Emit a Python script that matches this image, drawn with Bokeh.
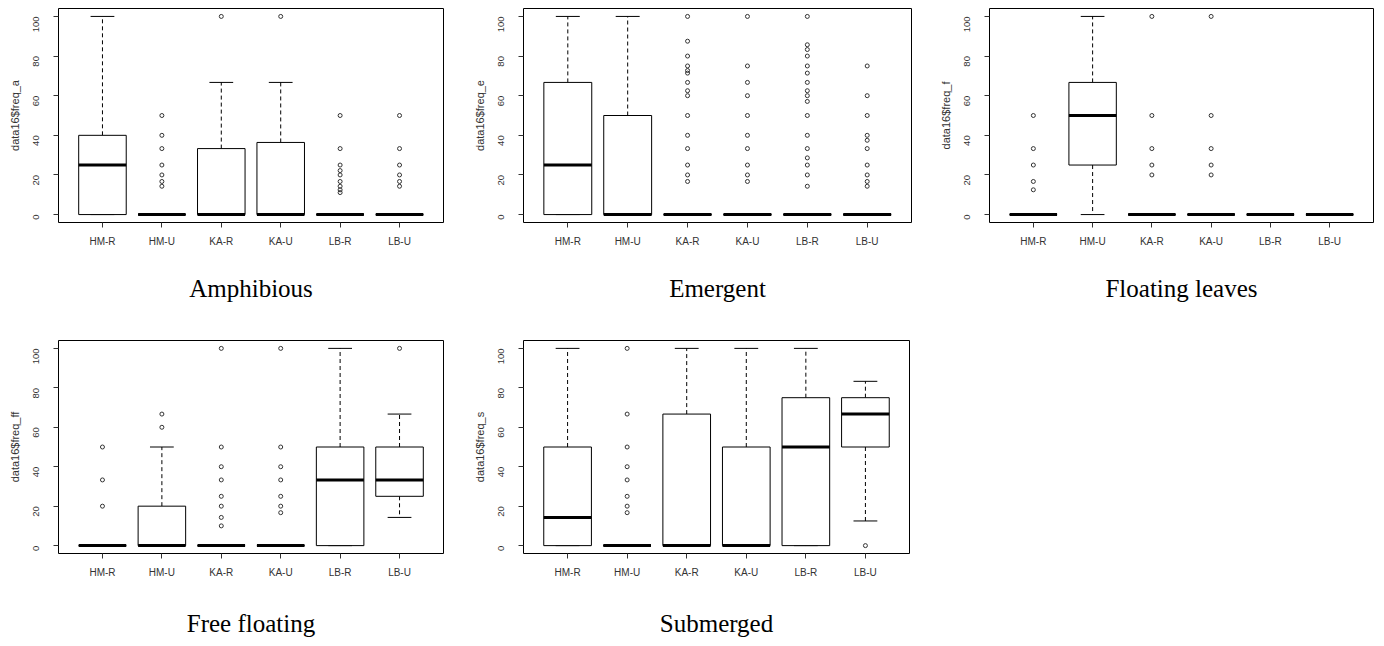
import math
from bokeh.plotting import figure
from bokeh.layouts import column, row
from bokeh.models import FactorRange, FixedTicker, ColumnDataSource
from bokeh.transform import dodge
from bokeh.embed import file_html
from bokeh.resources import INLINE

groups = ["HM-R", "HM-U", "KA-R", "KA-U", "LB-R", "LB-U"]
y_ticks = [0, 20, 40, 60, 80, 100]

# Amphibious  (data16$freq_a)
amph_lower = [0, 0, 0, 0, 0, 0]
amph_q1 = [0, 0, 0, 0, 0, 0]
amph_median = [25, 0, 0, 0, 0, 0]
amph_q3 = [40, 0, 33.3, 36.4, 0, 0]
amph_upper = [100, 0, 66.7, 66.7, 0, 0]
amph_out = [[], [50, 40, 33.3, 25, 20, 16.7, 14.3], [100], [100],
            [50, 33.3, 25, 22.2, 20, 16.7, 14.3, 12.5, 11.1],
            [50, 33.3, 25, 20, 16.7, 14.3]]

# Emergent  (data16$freq_e)
emer_lower = [0, 0, 0, 0, 0, 0]
emer_q1 = [0, 0, 0, 0, 0, 0]
emer_median = [25, 0, 0, 0, 0, 0]
emer_q3 = [66.7, 50, 0, 0, 0, 0]
emer_upper = [100, 100, 0, 0, 0, 0]
emer_out = [[], [],
            [100, 87.5, 80, 75, 72.7, 71.4, 66.7, 62.5, 60, 50, 40, 33.3, 25, 20, 16.7],
            [100, 75, 66.7, 60, 50, 40, 33.3, 25, 20, 16.7],
            [100, 85.7, 83.3, 80, 75, 71.4, 66.7, 62.5, 60, 57.1, 50, 40, 33.3, 28.6, 25, 20, 14.3],
            [75, 60, 50, 40, 37.5, 33.3, 25, 20, 16.7, 14.3]]

# Floating leaves  (data16$freq_f)
flea_lower = [0, 0, 0, 0, 0, 0]
flea_q1 = [0, 25, 0, 0, 0, 0]
flea_median = [0, 50, 0, 0, 0, 0]
flea_q3 = [0, 66.7, 0, 0, 0, 0]
flea_upper = [0, 100, 0, 0, 0, 0]
flea_out = [[50, 33.3, 25, 16.7, 12.5], [], [100, 50, 33.3, 25, 20],
            [100, 50, 33.3, 25, 20], [], []]

# Free floating  (data16$freq_ff)
ffl_lower = [0, 0, 0, 0, 0, 14.3]
ffl_q1 = [0, 0, 0, 0, 0, 25]
ffl_median = [0, 0, 0, 0, 33.3, 33.3]
ffl_q3 = [0, 20, 0, 0, 50, 50]
ffl_upper = [0, 50, 0, 0, 100, 66.7]
ffl_out = [[50, 33.3, 20], [66.7, 60], [100, 50, 40, 33.3, 25, 20, 14.3, 10],
           [100, 50, 40, 33.3, 25, 20, 16.7], [], [100]]

# Submerged  (data16$freq_s)
subm_lower = [0, 0, 0, 0, 0, 12.5]
subm_q1 = [0, 0, 0, 0, 0, 50]
subm_median = [14.3, 0, 0, 0, 50, 66.7]
subm_q3 = [50, 0, 66.7, 50, 75, 75]
subm_upper = [100, 0, 100, 100, 100, 83.3]
subm_out = [[], [100, 66.7, 50, 40, 33.3, 25, 20, 16.7], [], [], [], [0]]

TXT = "#333333"


def make_panel(ylabel, caption, lower, q1, med, q3, upper, outliers,
               bl, fw, br, bt, fh, bb, cap_standoff):
    p = figure(x_range=FactorRange(factors=groups, range_padding=0.24,
                                   range_padding_units="absolute"),
               y_range=(-4, 104), frame_width=fw, frame_height=fh,
               min_border_left=bl, min_border_right=br, min_border_top=bt,
               min_border_bottom=bb, output_backend="svg", toolbar_location=None)
    p.background_fill_color = "white"
    p.border_fill_color = "white"
    p.outline_line_color = "black"
    p.outline_line_width = 1
    p.outline_line_alpha = 1
    p.xgrid.visible = False
    p.ygrid.visible = False

    src = ColumnDataSource(dict(g=groups, lo=lower, q1=q1, med=med, q3=q3, up=upper))
    p.segment(x0="g", x1="g", y0="q3", y1="up", source=src, line_color="black",
              line_width=1, line_dash="4 3")
    p.segment(x0="g", x1="g", y0="q1", y1="lo", source=src, line_color="black",
              line_width=1, line_dash="4 3")
    p.segment(x0=dodge("g", -0.2, range=p.x_range), x1=dodge("g", 0.2, range=p.x_range),
              y0="up", y1="up", source=src, line_color="black", line_width=1)
    p.segment(x0=dodge("g", -0.2, range=p.x_range), x1=dodge("g", 0.2, range=p.x_range),
              y0="lo", y1="lo", source=src, line_color="black", line_width=1)
    p.vbar(x="g", width=0.8, bottom="q1", top="q3", source=src, fill_color="white",
           line_color="black", line_width=1)
    p.segment(x0=dodge("g", -0.4, range=p.x_range), x1=dodge("g", 0.4, range=p.x_range),
              y0="med", y1="med", source=src, line_color="black", line_width=3)

    ox, oy = [], []
    for g, vals in zip(groups, outliers):
        for v in vals:
            ox.append(g)
            oy.append(v)
    p.scatter(x=ox, y=oy, marker="circle", size=4, fill_color=None,
              line_color="#333333", line_width=1)

    # y axis
    p.yaxis.ticker = FixedTicker(ticks=y_ticks)
    p.yaxis.minor_tick_line_color = None
    p.yaxis.major_tick_out = 5
    p.yaxis.major_tick_in = 0
    p.yaxis.major_tick_line_color = TXT
    p.yaxis.axis_line_color = None
    p.yaxis.major_label_orientation = math.pi / 2
    p.yaxis.major_label_standoff = 17
    p.yaxis.major_label_text_font = "Liberation Sans"
    p.yaxis.major_label_text_font_size = "9.5px"
    p.yaxis.major_label_text_color = TXT
    p.yaxis.axis_label = ylabel
    p.yaxis.axis_label_text_font = "Liberation Sans"
    p.yaxis.axis_label_text_font_size = "11px"
    p.yaxis.axis_label_text_font_style = "normal"
    p.yaxis.axis_label_text_color = TXT
    p.yaxis.axis_label_standoff = 7

    # x axis
    p.xaxis.major_tick_out = 5
    p.xaxis.major_tick_in = 0
    p.xaxis.major_tick_line_color = TXT
    p.xaxis.axis_line_color = None
    p.xaxis.major_label_standoff = 8
    p.xaxis.major_label_text_font = "Liberation Sans"
    p.xaxis.major_label_text_font_size = "10px"
    p.xaxis.major_label_text_color = TXT
    p.xaxis.axis_label = caption
    p.xaxis.axis_label_text_font = "Liberation Serif"
    p.xaxis.axis_label_text_font_size = "25px"
    p.xaxis.axis_label_text_font_style = "normal"
    p.xaxis.axis_label_text_color = "black"
    p.xaxis.axis_label_standoff = cap_standoff
    return p


p1 = make_panel("data16$freq_a", "Amphibious", amph_lower, amph_q1, amph_median,
                amph_q3, amph_upper, amph_out, 58, 385, 27, 8, 214, 118, 25)
p2 = make_panel("data16$freq_e", "Emergent", emer_lower, emer_q1, emer_median,
                emer_q3, emer_upper, emer_out, 53, 388, 21, 8, 214, 118, 25)
p3 = make_panel("data16$freq_f", "Floating leaves", flea_lower, flea_q1, flea_median,
                flea_q3, flea_upper, flea_out, 57, 384, 3, 8, 214, 118, 25)
p4 = make_panel("data16$freq_ff", "Free floating", ffl_lower, ffl_q1, ffl_median,
                ffl_q3, ffl_upper, ffl_out, 58, 385, 27, 0, 213, 83, 29)
p5 = make_panel("data16$freq_s", "Submerged", subm_lower, subm_q1, subm_median,
                subm_q3, subm_upper, subm_out, 53, 386, 23, 0, 213, 83, 29)

layout = column(row(p1, p2, p3), row(p4, p5))
open("out.html", "w").write(file_html(layout, INLINE))
